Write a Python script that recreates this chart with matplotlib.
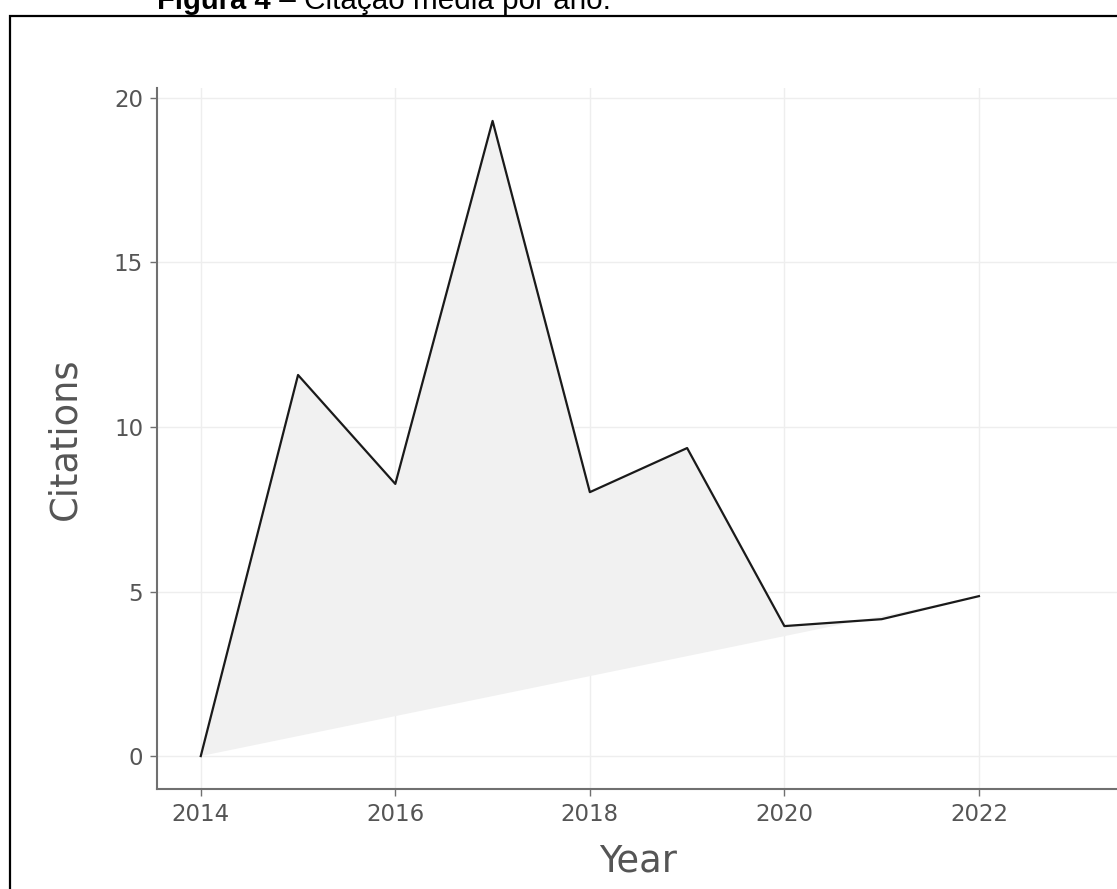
import matplotlib.pyplot as plt
from matplotlib.patches import Rectangle

# Citações médias por ano
years = [2014, 2015, 2016, 2017, 2018, 2019, 2020, 2021, 2022]
citations = [0.0, 11.58, 8.27, 19.3, 8.02, 9.36, 3.95, 4.16, 4.86]
x_ticks = [2014, 2016, 2018, 2020, 2022]
y_ticks = [0, 5, 10, 15, 20]

W, H = 1117, 889
fig = plt.figure(figsize=(W / 100, H / 100), dpi=100)
fig.patch.set_facecolor("white")

# moldura da figura (cortada à direita e embaixo)
fig.patches.append(Rectangle((10 / W, -0.05), 1.2, (H - 16) / H + 0.05,
                             transform=fig.transFigure, fill=False,
                             edgecolor="black", linewidth=1.6, zorder=5))

left, right, bottom, top = 157, 1119, 789, 88
ax = fig.add_axes([left / W, (H - bottom) / H, (right - left) / W,
                   (bottom - top) / H])

# legenda da figura: parte em negrito + resto normal
t1 = fig.text(157 / W, (H - 9) / H, "Figura 4", fontsize=21,
              fontweight="bold", family="Liberation Sans", va="baseline")
ax.annotate(" – Citação média por ano.", xy=(1, 0), xycoords=t1,
            fontsize=21.3, family="Liberation Sans", va="bottom",
            annotation_clip=False)

ax.fill(years, citations, color="#f1f1f1", zorder=1, linewidth=0)
ax.plot(years, citations, color="#1a1a1a", linewidth=1.6, zorder=3)

ax.set_xlim(2013.55, 2023.44)
ax.set_ylim(-1.0, 20.3)
ax.set_xticks(x_ticks)
ax.set_yticks(y_ticks)

axis_col = "#707070"
for side in ["top", "right"]:
    ax.spines[side].set_visible(False)
for side in ["left", "bottom"]:
    ax.spines[side].set_color(axis_col)
    ax.spines[side].set_linewidth(1.5)

ax.tick_params(axis="both", colors=axis_col, length=5, width=1,
               labelsize=16.5, labelcolor="#555555", pad=5)
ax.grid(True, color="#eeeeee", linewidth=1, zorder=0)
ax.set_axisbelow(True)

ax.set_xlabel("Year", fontsize=26.5, color="#555555", labelpad=12)
ax.set_ylabel("Citations", fontsize=26.5, color="#555555", labelpad=22)

fig.savefig("out.png", dpi=100)
